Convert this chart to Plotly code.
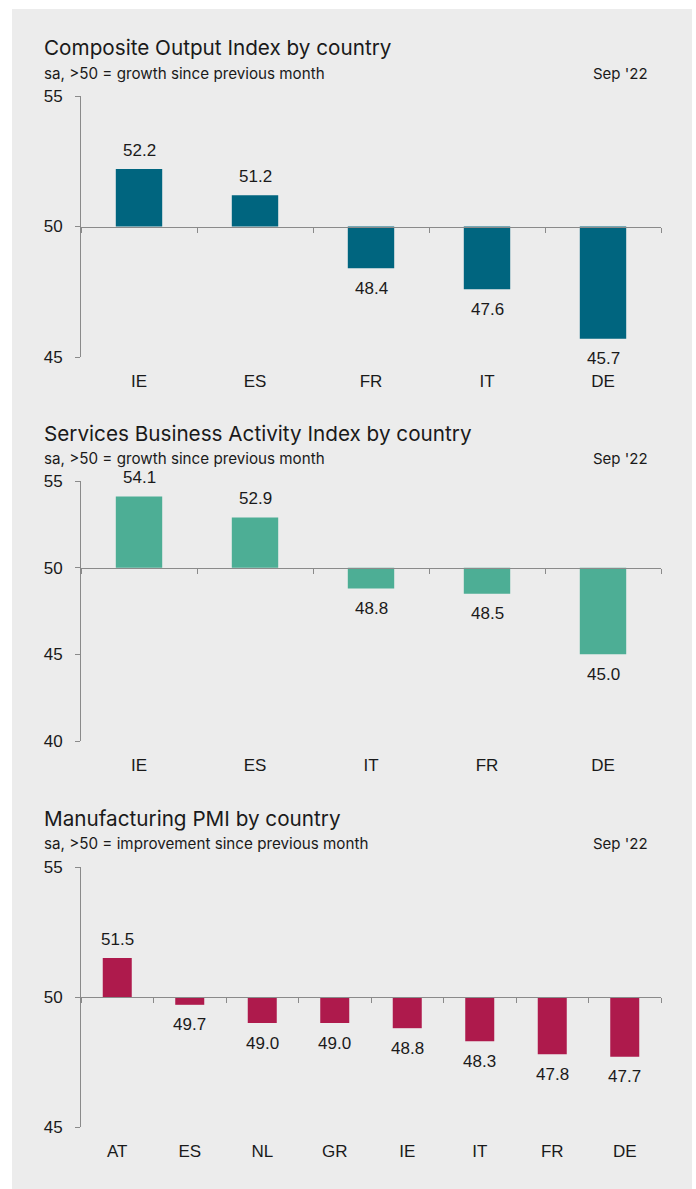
import plotly.graph_objects as go

W, H = 696, 1189

comp_countries = ["IE", "ES", "FR", "IT", "DE"]
comp_values = [52.2, 51.2, 48.4, 47.6, 45.7]

serv_countries = ["IE", "ES", "IT", "FR", "DE"]
serv_values = [54.1, 52.9, 48.8, 48.5, 45.0]

manu_countries = ["AT", "ES", "NL", "GR", "IE", "IT", "FR", "DE"]
manu_values = [51.5, 49.7, 49.0, 49.0, 48.8, 48.3, 47.8, 47.7]

panels = [
    dict(title="Composite Output Index by country",
         sub="sa, >50 = growth since previous month",
         cats=comp_countries, vals=comp_values, color="#00657f",
         yr=[45, 55], ticks=[45, 50, 55], top=96, bot=357,
         ty=48, sy=73),
    dict(title="Services Business Activity Index by country",
         sub="sa, >50 = growth since previous month",
         cats=serv_countries, vals=serv_values, color="#4dae95",
         yr=[40, 55], ticks=[40, 45, 50, 55], top=481, bot=741,
         ty=433, sy=459),
    dict(title="Manufacturing PMI by country",
         sub="sa, >50 = improvement since previous month",
         cats=manu_countries, vals=manu_values, color="#ae1a4c",
         yr=[45, 55], ticks=[45, 50, 55], top=867, bot=1127,
         ty=818, sy=843),
]

BASE = 50
AX = "#8a8a8a"
TXT = "#1a1a1a"
NUMFONT = "Liberation Sans"
TFONT = "Inter"
NS = 17

x0, x1 = 81 / W, 661 / W

fig = go.Figure()
layout = dict(
    width=W, height=H,
    margin=dict(l=0, r=0, t=0, b=0, pad=0, autoexpand=False),
    paper_bgcolor="white", plot_bgcolor="rgba(0,0,0,0)",
    showlegend=False, bargap=0.6,
    font=dict(family=NUMFONT, size=NS, color=TXT),
    shapes=[dict(type="rect", xref="paper", yref="paper",
                 x0=12 / W, x1=692 / W, y0=0, y1=1 - 9 / H,
                 fillcolor="#ececec", line=dict(width=0), layer="below")],
    annotations=[],
)

for i, p in enumerate(panels):
    n = len(p["cats"])
    xi = i + 1
    xo = i + 4
    xname = "x" if xi == 1 else f"x{xi}"
    yname = "y" if xi == 1 else f"y{xi}"
    xoname = f"x{xo}"
    d0 = 1 - p["bot"] / H
    d1 = 1 - p["top"] / H
    lo, hi = p["yr"]
    pos50 = d0 + (BASE - lo) / (hi - lo) * (d1 - d0)

    fig.add_trace(go.Bar(
        x=p["cats"], y=[v - BASE for v in p["vals"]], base=BASE,
        marker=dict(color=p["color"], line=dict(width=0)),
        xaxis=xname, yaxis=yname, hoverinfo="skip"))
    fig.add_trace(go.Scatter(
        x=p["cats"], y=p["vals"], mode="markers",
        marker=dict(opacity=0), xaxis=xoname, yaxis=yname,
        hoverinfo="skip"))

    layout["xaxis" if xi == 1 else f"xaxis{xi}"] = dict(
        domain=[x0, x1], anchor=yname, type="category", automargin=False,
        range=[-0.5, n - 0.5], showline=False, showgrid=False,
        ticks="", ticklabelstandoff=12, zeroline=False,
        tickfont=dict(family=NUMFONT, size=NS, color=TXT))
    layout[f"xaxis{xo}"] = dict(
        overlaying=xname, anchor="free", position=pos50, type="category",
        range=[-0.5, n - 0.5], showline=True, linecolor=AX, linewidth=1,
        ticks="outside", tickson="boundaries", ticklen=5, tickcolor=AX,
        automargin=False,
        showticklabels=False, showgrid=False, zeroline=False)
    layout["yaxis" if xi == 1 else f"yaxis{xi}"] = dict(
        domain=[d0, d1], anchor=xname, range=[lo, hi], automargin=False,
        tickvals=p["ticks"], showline=True, linecolor=AX, linewidth=1,
        ticks="outside", ticklen=5, tickcolor=AX, showgrid=False,
        zeroline=False, ticklabelstandoff=9,
        tickfont=dict(family=NUMFONT, size=NS, color=TXT))

    for c, v in zip(p["cats"], p["vals"]):
        layout["annotations"].append(dict(
            x=c, y=v, xref=xname, yref=yname, text=f"{v:.1f}",
            showarrow=False, yanchor="middle",
            yshift=19 if v >= BASE else -20,
            font=dict(family=NUMFONT, size=NS, color=TXT)))

    layout["annotations"].append(dict(
        x=42 / W, y=1 - p["ty"] / H, xref="paper", yref="paper",
        xanchor="left", yanchor="middle", text=p["title"], showarrow=False,
        font=dict(family=TFONT, size=20.7, color=TXT)))
    layout["annotations"].append(dict(
        x=42 / W, y=1 - p["sy"] / H, xref="paper", yref="paper",
        xanchor="left", yanchor="middle", text=p["sub"], showarrow=False,
        font=dict(family=TFONT, size=15.2, color=TXT)))
    layout["annotations"].append(dict(
        x=650 / W, y=1 - p["sy"] / H, xref="paper", yref="paper",
        xanchor="right", yanchor="middle", text="Sep '22", showarrow=False,
        font=dict(family=TFONT, size=15, color=TXT)))

fig.update_layout(**layout)
fig.write_html("out.html")
